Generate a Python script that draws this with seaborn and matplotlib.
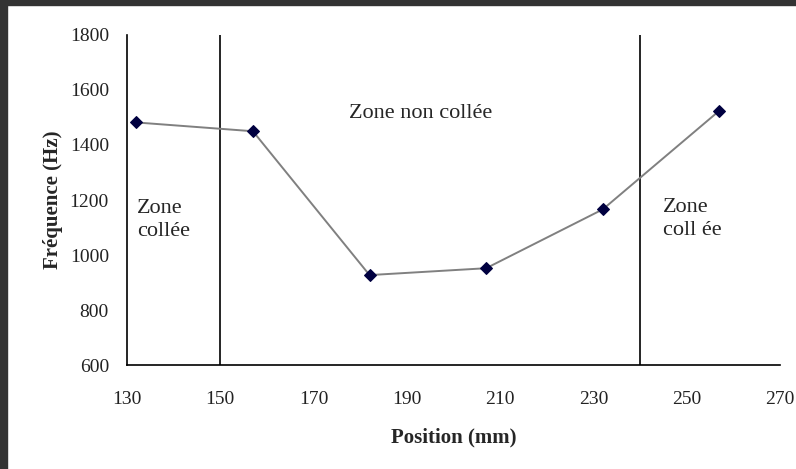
import pandas as pd
import matplotlib.pyplot as plt
import seaborn as sns
from matplotlib.patches import Rectangle

positions = [132, 157, 182, 207, 232, 257]
frequencies = [1482, 1450, 927, 952, 1166, 1525]
zone_limits = [150, 240]
x_ticks = [130, 150, 170, 190, 210, 230, 250, 270]
y_ticks = [600, 800, 1000, 1200, 1400, 1600, 1800]

df = pd.DataFrame({'Position': positions, 'Frequence': frequencies})

sns.set_style("white")
plt.rcParams['font.family'] = ['Liberation Serif', 'DejaVu Serif']

fig = plt.figure(figsize=(7.96, 4.69), dpi=100)
ax = fig.add_axes([0.1595, 0.2217, 0.8205, 0.7037])

sns.lineplot(data=df, x='Position', y='Frequence', ax=ax, color='#808080',
             linewidth=1.4, marker='D', markersize=6,
             markerfacecolor='#000040', markeredgecolor='#000040', zorder=3)

# Zone boundaries
for z in zone_limits:
    ax.axvline(z, color='black', linewidth=1.2, zorder=2)

ax.set_xlim(130, 270)
ax.set_ylim(600, 1800)
ax.set_xticks(x_ticks)
ax.set_yticks(y_ticks)
ax.tick_params(axis='both', direction='out', length=5, width=1.2,
               labelsize=14, color='black', labelcolor='#222222')
ax.tick_params(axis='x', pad=14)
ax.tick_params(axis='y', pad=8)
for side in ['top', 'right']:
    ax.spines[side].set_visible(False)
for side in ['left', 'bottom']:
    ax.spines[side].set_color('black')
    ax.spines[side].set_linewidth(1.2)

ax.set_xlabel("Position (mm)", fontsize=15, fontweight='bold', labelpad=14)
ax.set_ylabel("Fréquence (Hz)", fontsize=15, fontweight='bold', labelpad=5)

ax.text(193, 1513, "Zone non collée", fontsize=16, ha='center', va='center')
ax.text(132.2, 1127, "Zone\ncollée", fontsize=16, ha='left', va='center',
        linespacing=1.3)
ax.text(244.8, 1131, "Zone\ncoll ée", fontsize=16, ha='left', va='center',
        linespacing=1.3)

# Dark frame on the left and top edges
fig.patches.append(Rectangle((0, 0), 7 / 796, 1, transform=fig.transFigure,
                             color='#333333', zorder=10))
fig.patches.append(Rectangle((0, 1 - 5 / 469), 1, 5 / 469, transform=fig.transFigure,
                             color='#333333', zorder=10))

fig.savefig("out.png", dpi=100)
